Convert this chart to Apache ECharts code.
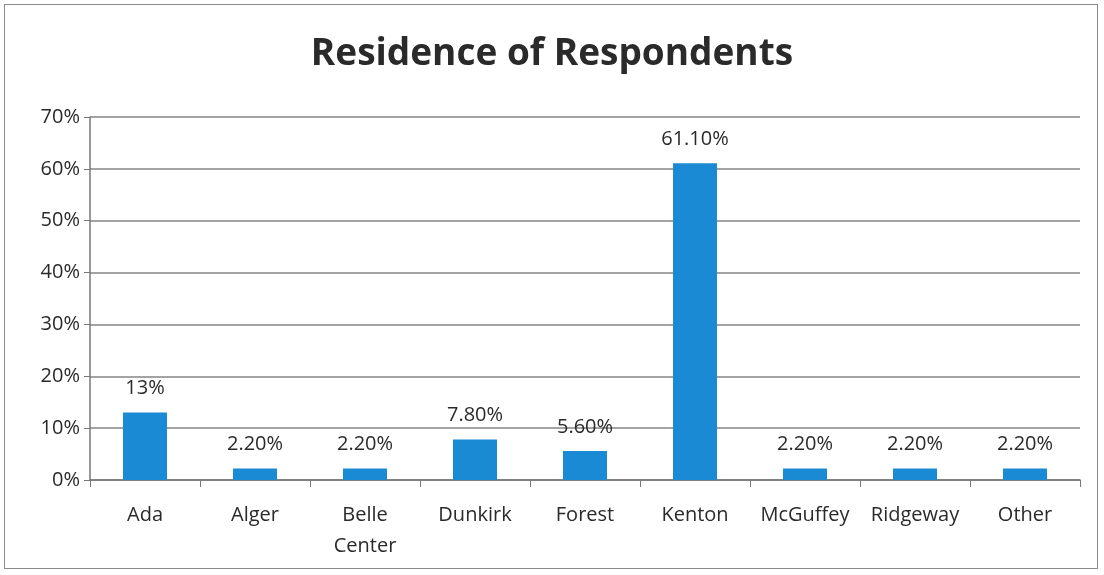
<!DOCTYPE html>
<html><head><meta charset="utf-8">
<script src="https://cdn.jsdelivr.net/npm/echarts@6/dist/echarts.min.js"></script>
<style>
html,body{margin:0;padding:0;background:#fff;}
#c{position:absolute;left:0;top:0;width:1104px;height:575px;}
#b{position:absolute;left:4px;top:4px;width:1094px;height:565px;border:1.5px solid #8a8a8a;box-sizing:border-box;pointer-events:none;}
</style></head>
<body><div id="c"></div><div id="b"></div>
<script>
const categories = ['Ada','Alger','Belle\nCenter','Dunkirk','Forest','Kenton','McGuffey','Ridgeway','Other'];
const values = [13, 2.2, 2.2, 7.8, 5.6, 61.1, 2.2, 2.2, 2.2];
const valueLabels = ['13%','2.20%','2.20%','7.80%','5.60%','61.10%','2.20%','2.20%','2.20%'];
const yTicks = [0,10,20,30,40,50,60,70];

const chart = echarts.init(document.getElementById('c'));
const font = '"Open Sans", "Liberation Sans", sans-serif';
chart.setOption({
  animation:false,
  title:{text:'Residence of Respondents',left:'center',top:31,
    textStyle:{fontFamily:font,fontSize:37,fontWeight:'bold',color:'#2a2a2a'}},
  grid:{left:90,right:24,top:117,bottom:95,containLabel:false},
  xAxis:{type:'category',data:categories,
    axisLine:{lineStyle:{color:'#777',width:1.5}},
    axisTick:{show:true,inside:false,length:7,lineStyle:{color:'#777'}},
    axisLabel:{interval:0,fontFamily:font,fontSize:20,color:'#2a2a2a',margin:20,lineHeight:31}},
  yAxis:{type:'value',min:0,max:70,interval:10,
    axisLine:{show:true,lineStyle:{color:'#777',width:1.5}},
    axisTick:{show:true,length:6,lineStyle:{color:'#777'}},
    splitLine:{lineStyle:{color:'#858585',width:1.5}},
    axisLabel:{fontFamily:font,fontSize:20,color:'#2a2a2a',margin:10,
      formatter:v=>yTicks.includes(v)?v+'%':''}},
  series:[{type:'bar',data:values,barWidth:44,
    itemStyle:{color:'#1a8ad4'},
    label:{show:true,position:'top',distance:14,fontFamily:font,fontSize:20,color:'#2a2a2a',
      formatter:p=>valueLabels[p.dataIndex]}}]
});
</script></body></html>
